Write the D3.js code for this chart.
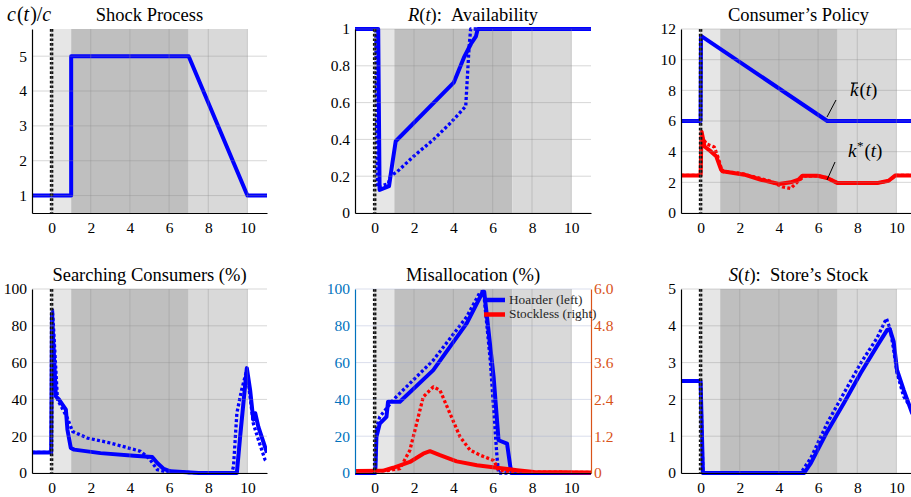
<!DOCTYPE html>
<html lang="en">
<head>
<meta charset="UTF-8">
<title>Shock response</title>
<script src="https://cdnjs.cloudflare.com/ajax/libs/d3/7.8.5/d3.min.js"></script>
<style>
  body { margin: 0; background: #fff; }
</style>
</head>
<body>
<div id="chart"></div>
<script>
// ---- data ----
var bandStart = [0, 1, 7];
var bandEnd = [1, 7, 10];
var xTicks = [0, 2, 4, 6, 8, 10];

// shock process c(t)/c
var shockT = [-1, 1, 1, 7, 10, 11];
var shockC = [1, 1, 5, 5, 1, 1];

// R(t) availability
var availT = [-1, 0.18, 0.25, 0.73, 0.9, 1.07, 4.03, 4.54, 4.9, 5.15, 5.24, 11];
var availSolid = [1, 1, 0.125, 0.146, 0.27, 0.39, 0.71, 0.845, 0.92, 0.96, 1, 1];
var availDotT = [-1, 0.05, 0.14, 0.7, 0.8, 1.15, 2.0, 3.0, 3.86, 4.63, 4.72, 4.8, 4.88, 11];
var availDot = [1, 1, 0.14, 0.16, 0.2, 0.225, 0.31, 0.40, 0.49, 0.58, 0.75, 0.9, 1, 1];

// consumer policy
var kbarT = [-1, 0, 0.02, 6.47, 11];
var kbar = [6, 6, 11.55, 6, 6];
var kstarT = [-1, 0, 0.05, 0.2, 0.54, 0.8, 1.05, 1.2, 2.24, 3.08, 4.0, 4.6, 5.0, 5.2, 5.97, 6.47, 7.0, 9.0, 9.6, 9.95, 11];
var kstar = [2.45, 2.45, 5.3, 4.34, 4.0, 3.7, 2.82, 2.7, 2.5, 2.17, 1.89, 2.0, 2.17, 2.43, 2.43, 2.28, 1.95, 1.95, 2.1, 2.45, 2.45];
var kstarDotT = [-1, 0, 0.05, 0.3, 0.7, 0.9, 1.1, 2.0, 3.5, 4.2, 4.6, 5.0, 5.3, 5.97, 6.47, 7.0, 9.0, 9.6, 9.95, 11];
var kstarDot = [2.45, 2.45, 5.0, 4.5, 4.3, 3.6, 2.7, 2.6, 2.1, 1.7, 1.6, 2.1, 2.4, 2.43, 2.28, 1.95, 1.95, 2.1, 2.45, 2.45];

// searching consumers (%)
var searchT = [-1, -0.02, 0.02, 0.22, 0.39, 0.73, 0.81, 0.98, 1.15, 2.5, 4.2, 5.14, 5.4, 5.73, 6.07, 6.9, 7.5, 9.46, 9.63, 9.97, 10.14, 10.3, 10.4, 10.56, 11];
var search = [11.2, 11.2, 86.8, 41.6, 39.8, 34.4, 23.5, 13.6, 12.7, 10.8, 9.4, 8.7, 5.4, 2.2, 0.9, 0.4, 0, 0, 20, 57, 45, 29, 32.5, 25, 11];
var searchDotT = [-1, -0.02, 0.05, 0.3, 0.81, 1.07, 1.83, 3.0, 4.54, 4.97, 5.4, 5.9, 9.2, 9.29, 9.46, 9.7, 9.97, 10.3, 10.56, 10.9, 11];
var searchDot = [11.2, 11.2, 88.6, 40, 29.8, 22.6, 19, 16.3, 11.8, 8.1, 1.8, 0.4, 0, 3.6, 32.5, 45, 56, 27, 18, 7.2, 6];

// misallocation: hoarder (left, %) and stockless (right)
var hoardT = [-1, 0.03, 0.09, 0.26, 0.6, 0.68, 1.28, 2.98, 4.68, 5.5, 5.57, 6.05, 6.3, 6.73, 6.9, 6.98, 11];
var hoard = [0, 0, 19.6, 26.9, 30.5, 38.7, 38.7, 55.9, 81.3, 98.5, 98.5, 52, 17.8, 16, 3.3, 0, 0];
var hoardDotT = [-1, 0.03, 0.1, 0.26, 0.94, 2.98, 4.68, 5.37, 5.54, 5.88, 6.22, 6.3, 11];
var hoardDot = [0, 0, 25, 30.5, 39.7, 61.3, 84.9, 98.5, 98.5, 61, 8.7, 0, 0];
var stockT = [-1, 0.4, 0.94, 1.79, 2.47, 2.81, 3.32, 4.17, 5.2, 6.22, 7.24, 8.1, 11];
var stock = [0.065, 0.07, 0.17, 0.36, 0.63, 0.71, 0.58, 0.38, 0.25, 0.17, 0.09, 0.03, 0.02];
var stockDotT = [-1, 0.4, 0.77, 1.28, 1.79, 2.13, 2.47, 2.98, 3.32, 3.83, 4.34, 4.86, 5.37, 6.05, 6.3, 7, 11];
var stockDot = [0.065, 0.07, 0.09, 0.14, 0.74, 1.61, 2.48, 2.81, 2.70, 1.94, 1.18, 0.74, 0.58, 0.41, 0.09, 0.03, 0.02];
var rightTicks = [0, 1.2, 2.4, 3.6, 4.8, 6.0];
var rightLabels = ["0", "1.2", "2.4", "3.6", "4.8", "6.0"];
var legendNames = ["Hoarder (left)", "Stockless (right)"];

// store's stock S(t)
var storeT = [-1, 0, 0.12, 5.29, 5.63, 6.47, 7.32, 8.17, 9.0, 9.53, 9.66, 9.86, 10.03, 10.37, 10.8, 11];
var store = [2.5, 2.5, 0, 0, 0.27, 1.13, 1.9, 2.71, 3.44, 3.89, 3.91, 3.57, 2.8, 2.26, 1.63, 1.45];
var storeDotT = [-1, 0, 0.12, 5.12, 5.63, 6.47, 7.32, 8.17, 9.0, 9.49, 9.69, 9.86, 10.03, 10.37, 10.7, 11];
var storeDot = [2.5, 2.5, 0, 0, 0.41, 1.36, 2.17, 2.98, 3.66, 4.2, 3.89, 3.35, 2.72, 2.08, 1.81, 1.7];

// ---- drawing ----
var width = 911, height = 497;
var BLUE = "#0000ff", RED = "#ff0000";
var FONT = "'Liberation Serif', 'DejaVu Serif', serif";
var bandColors = ["#e6e6e6", "#bfbfbf", "#d9d9d9"];

var svg = d3.select("#chart").append("svg")
    .attr("width", width)
    .attr("height", height);

var cols = [[32, 267], [355, 591], [681, 916]];
var rows = [[29, 213], [289, 473]];
var clipId = 0;

function panel(c, r, ydomain, yticks, title) {
    var x = d3.scaleLinear().domain([-1, 11]).range(cols[c]);
    var y = d3.scaleLinear().domain(ydomain).range([rows[r][1], rows[r][0]]);
    var g = svg.append("g");
    var id = "clip" + (clipId++);
    g.append("clipPath").attr("id", id).append("rect")
        .attr("x", cols[c][0]).attr("y", rows[r][0] - 3)
        .attr("width", cols[c][1] - cols[c][0]).attr("height", rows[r][1] - rows[r][0] + 6);

    g.selectAll(".band").data(bandStart).enter().append("rect")
        .attr("x", function(d) { return x(d); })
        .attr("width", function(d, i) { return x(bandEnd[i]) - x(d); })
        .attr("y", rows[r][0])
        .attr("height", rows[r][1] - rows[r][0])
        .attr("fill", function(d, i) { return bandColors[i]; });

    var data = g.append("g").attr("clip-path", "url(#" + id + ")");

    var tt = g.append("text")
        .attr("class", "title")
        .attr("x", (cols[c][0] + cols[c][1]) / 2)
        .attr("y", r === 0 ? 21 : 281)
        .attr("text-anchor", "middle")
        .attr("font-size", "18.5px");
    if (title) tt.text(title);

    return { g: g, data: data, x: x, y: y, c: c, r: r, yticks: yticks, title: tt };
}

function addLine(p, t, v, color, dotted, yscale) {
    var ys = yscale || p.y;
    var line = d3.line().x(function(d) { return p.x(d[0]); }).y(function(d) { return ys(d[1]); });
    p.data.append("path")
        .datum(d3.zip(t, v))
        .attr("d", line)
        .attr("fill", "none")
        .attr("stroke", color)
        .attr("stroke-width", dotted ? 3.3 : 4)
        .attr("stroke-dasharray", dotted ? "3,2.3" : null)
        .attr("stroke-linejoin", "round");
}

function finish(p, opts) {
    opts = opts || {};
    var x = p.x, y = p.y, g = p.g;
    var top = rows[p.r][0], bot = rows[p.r][1], left = cols[p.c][0], right = cols[p.c][1];
    // zero marker
    p.data.append("line")
        .attr("x1", x(0)).attr("x2", x(0)).attr("y1", top).attr("y2", bot)
        .attr("stroke", "#111").attr("stroke-width", 3.5).attr("stroke-dasharray", "2.7,2");
    // grid on top
    var grid = g.append("g").attr("stroke-width", 1);
    grid.selectAll(".gx").data(xTicks).enter().append("line")
        .attr("x1", function(d) { return x(d); }).attr("x2", function(d) { return x(d); })
        .attr("y1", top).attr("y2", bot)
        .attr("stroke", "rgba(140,140,140,0.35)");
    grid.selectAll(".gy").data(p.yticks).enter().append("line")
        .attr("x1", left).attr("x2", Math.min(right, width))
        .attr("y1", function(d) { return y(d); }).attr("y2", function(d) { return y(d); })
        .attr("stroke", opts.gridY || "rgba(140,140,140,0.35)");

    // axes
    var yAxis = d3.axisLeft(y).tickValues(p.yticks).tickSize(0).tickPadding(5)
        .tickFormat(function(d) { return String(d); });
    var ya = g.append("g").attr("transform", "translate(" + left + ",0)").call(yAxis);
    ya.select(".domain").attr("stroke", opts.leftColor || "#000").attr("stroke-width", 1.2);
    ya.selectAll("text").attr("font-size", "15.5px")
        .attr("fill", opts.leftColor || "#000");

    var xAxis = d3.axisBottom(x).tickValues(xTicks).tickSize(0).tickPadding(9)
        .tickFormat(function(d) { return String(d); });
    var xa = g.append("g").attr("transform", "translate(0," + bot + ")").call(xAxis);
    xa.select(".domain").attr("stroke", "#000").attr("stroke-width", 1.2);
    xa.selectAll("text").attr("font-size", "15.5px").attr("fill", "#000");
}

// panel 1: shock process
var p1 = panel(0, 0, [0.5, 5.78], [1, 2, 3, 4, 5], "Shock Process");
addLine(p1, shockT, shockC, BLUE, false);
finish(p1);
var yl = svg.append("text").attr("x", 7).attr("y", 21).attr("font-size", "20px");
yl.append("tspan").attr("font-style", "italic").text("c");
yl.append("tspan").attr("dx", 1).text("(");
yl.append("tspan").attr("font-style", "italic").text("t");
yl.append("tspan").attr("dx", 1).text(")/");
yl.append("tspan").attr("font-style", "italic").text("c");

// panel 2: availability
var p2 = panel(1, 0, [0, 1], [0, 0.2, 0.4, 0.6, 0.8, 1], "");
addLine(p2, availDotT, availDot, BLUE, true);
addLine(p2, availT, availSolid, BLUE, false);
finish(p2);
p2.title.append("tspan").attr("font-style", "italic").text("R");
p2.title.append("tspan").text("(");
p2.title.append("tspan").attr("font-style", "italic").text("t");
p2.title.append("tspan").text("):\u2002Availability");

// panel 3: consumer's policy
var p3 = panel(2, 0, [0, 12], [0, 2, 4, 6, 8, 10, 12], "Consumer\u2019s Policy");
addLine(p3, kbarT, kbar, BLUE, false);
addLine(p3, kstarDotT, kstarDot, RED, true);
addLine(p3, kstarT, kstar, RED, false);
finish(p3);
var a1 = svg.append("text").attr("x", 850).attr("y", 96).attr("font-size", "19px");
a1.append("tspan").attr("font-style", "italic").text("k");
a1.append("tspan").attr("dx", 1).text("(");
a1.append("tspan").attr("font-style", "italic").text("t");
a1.append("tspan").text(")");
svg.append("line").attr("x1", 851).attr("x2", 858).attr("y1", 83).attr("y2", 83)
    .attr("stroke", "#000").attr("stroke-width", 1.1);
var a2 = svg.append("text").attr("x", 848).attr("y", 157).attr("font-size", "19px");
a2.append("tspan").attr("font-style", "italic").text("k");
a2.append("tspan").attr("font-size", "13px").attr("dy", -7).attr("dx", 0.5).text("*");
a2.append("tspan").attr("dy", 7).attr("dx", 1).text("(");
a2.append("tspan").attr("font-style", "italic").text("t");
a2.append("tspan").text(")");
svg.append("line").attr("x1", 827).attr("y1", 117).attr("x2", 836).attr("y2", 100)
    .attr("stroke", "#000").attr("stroke-width", 1);
svg.append("line").attr("x1", 827).attr("y1", 180).attr("x2", 835).attr("y2", 162)
    .attr("stroke", "#000").attr("stroke-width", 1);

// panel 4: searching consumers
var p4 = panel(0, 1, [0, 100], [0, 20, 40, 60, 80, 100], "Searching Consumers (%)");
addLine(p4, searchDotT, searchDot, BLUE, true);
addLine(p4, searchT, search, BLUE, false);
finish(p4);

// panel 5: misallocation
var p5 = panel(1, 1, [0, 100], [0, 20, 40, 60, 80, 100], "Misallocation (%)");
var yR = d3.scaleLinear().domain([0, 6]).range([rows[1][1], rows[1][0]]);
addLine(p5, hoardDotT, hoardDot, BLUE, true);
addLine(p5, hoardT, hoard, BLUE, false);
addLine(p5, stockDotT, stockDot, RED, true, yR);
addLine(p5, stockT, stock, RED, false, yR);
finish(p5, { leftColor: "#0072BD", gridY: "rgba(150,160,200,0.35)" });
var rAxis = d3.axisRight(yR).tickValues(rightTicks).tickSize(0).tickPadding(3)
    .tickFormat(function(d, i) { return rightLabels[i]; });
var ra = p5.g.append("g").attr("transform", "translate(" + cols[1][1] + ",0)").call(rAxis);
ra.select(".domain").attr("stroke", "#D95319").attr("stroke-width", 1.2);
ra.selectAll("text").attr("font-size", "15.5px").attr("fill", "#D95319");
var leg = p5.g.append("g");
leg.selectAll("line").data(legendNames).enter().append("line")
    .attr("x1", 484).attr("x2", 505)
    .attr("y1", function(d, i) { return 300 + i * 14.5; })
    .attr("y2", function(d, i) { return 300 + i * 14.5; })
    .attr("stroke", function(d, i) { return i === 0 ? BLUE : RED; })
    .attr("stroke-width", 4.5);
leg.selectAll("text").data(legendNames).enter().append("text")
    .attr("x", 509)
    .attr("y", function(d, i) { return 303.8 + i * 14.5; })
    .attr("font-size", "13.3px")
    .attr("fill", "#262626")
    .text(function(d) { return d; });

// panel 6: store's stock
var p6 = panel(2, 1, [0, 5], [0, 1, 2, 3, 4, 5], "");
addLine(p6, storeDotT, storeDot, BLUE, true);
addLine(p6, storeT, store, BLUE, false);
finish(p6);
p6.title.append("tspan").attr("font-style", "italic").text("S");
p6.title.append("tspan").text("(");
p6.title.append("tspan").attr("font-style", "italic").text("t");
p6.title.append("tspan").text("):\u2002Store\u2019s Stock");

// one serif face for every label
svg.selectAll("text").style("font-family", FONT);
svg.selectAll("g").attr("font-family", null);
</script>
</body>
</html>
